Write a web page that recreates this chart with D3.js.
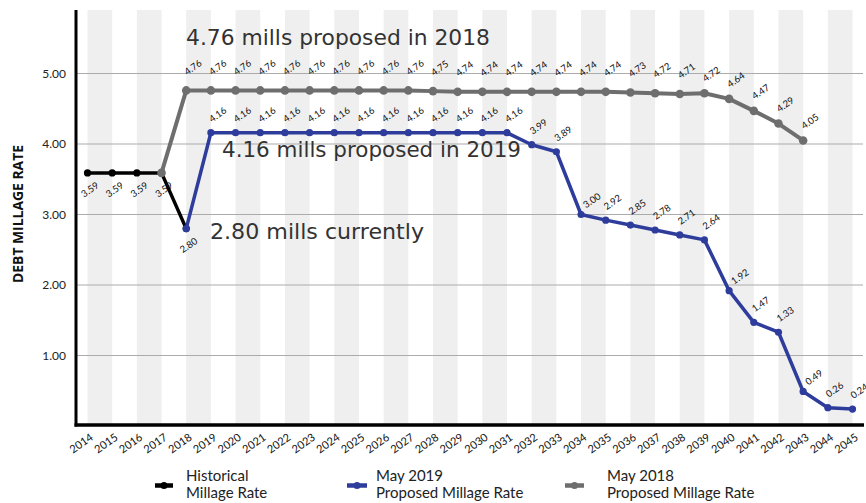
<!DOCTYPE html>
<html><head><meta charset="utf-8">
<script src="https://cdn.jsdelivr.net/npm/d3@7"></script>
<style>body{margin:0;background:#fff;} svg{display:block;font-family:Lato, "Open Sans", sans-serif;}</style>
</head><body><svg id="chart" width="866" height="503"></svg>
<script>
const years = [2014,2015,2016,2017,2018,2019,2020,2021,2022,2023,2024,2025,2026,2027,2028,2029,2030,2031,2032,2033,2034,2035,2036,2037,2038,2039,2040,2041,2042,2043,2044,2045];
const yTicks = [1,2,3,4,5];
const historicalStart = 2014;
const historicalValues = [3.59,3.59,3.59,3.59,2.80];
const may2019Start = 2018;
const may2019Values = [2.80,4.16,4.16,4.16,4.16,4.16,4.16,4.16,4.16,4.16,4.16,4.16,4.16,4.16,3.99,3.89,3.00,2.92,2.85,2.78,2.71,2.64,1.92,1.47,1.33,0.49,0.26,0.24];
const may2018Start = 2017;
const may2018Values = [3.59,4.76,4.76,4.76,4.76,4.76,4.76,4.76,4.76,4.76,4.76,4.75,4.74,4.74,4.74,4.74,4.74,4.74,4.74,4.73,4.72,4.71,4.72,4.64,4.47,4.29,4.05];
const annotations = ["4.76 mills proposed in 2018","4.16 mills proposed in 2019","2.80 mills currently"];
const legendLabels = [["Historical","Millage Rate"],["May 2019","Proposed Millage Rate"],["May 2018","Proposed Millage Rate"]];

const toPts = (start, vals) => vals.map((v,i)=>({year:years[years.indexOf(start)+i], value:v}));
const historical = toPts(historicalStart, historicalValues);
const may2019 = toPts(may2019Start, may2019Values);
const may2018 = toPts(may2018Start, may2018Values);

const svg = d3.select("#chart");
const x = d3.scalePoint().domain(years).range([87.5, 852.5]);
const y = d3.scaleLinear().domain([0,5]).range([426, 73.5]);
const topY = 10, axisY = 425, axisX = 76, rightX = 864;

// bands
years.forEach((yr,i)=>{
  if (i%2===0 && i+1<years.length) {
    svg.append("rect").attr("x", x(yr)).attr("y", topY)
      .attr("width", x(years[i+1])-x(yr)).attr("height", axisY-topY)
      .attr("fill", "#efefef");
  }
});
// gridlines
svg.append("g").selectAll("line").data(yTicks).join("line")
  .attr("x1", axisX).attr("x2", rightX-1).attr("y1", d=>y(d)).attr("y2", d=>y(d))
  .attr("stroke", "#ababab").attr("stroke-width", 1.2);

// axes
const ya = svg.append("g").attr("transform", `translate(${axisX},0)`)
  .call(d3.axisLeft(y).tickValues(yTicks).tickFormat(d3.format(".2f")).tickSize(0).tickPadding(10));
ya.select(".domain").remove();
ya.selectAll("text").attr("font-family","Lato").attr("font-size",12).attr("fill","#222");

const xa = svg.append("g").attr("transform", `translate(0,${axisY})`)
  .call(d3.axisBottom(x).tickSize(0));
xa.select(".domain").remove();
xa.selectAll("text").attr("font-family","Lato").attr("font-size",11).attr("fill","#111")
  .attr("x",0).attr("y",0).attr("dy",0).attr("text-anchor","end")
  .attr("transform","translate(6,14) rotate(-35)");

svg.append("line").attr("x1", axisX).attr("x2", axisX).attr("y1", topY).attr("y2", axisY+1.5)
  .attr("stroke","#000").attr("stroke-width",3);
svg.append("line").attr("x1", axisX-1.5).attr("x2", rightX).attr("y1", axisY).attr("y2", axisY)
  .attr("stroke","#000").attr("stroke-width",3.5);

svg.append("text").attr("transform", `translate(23,214) rotate(-90)`)
  .attr("text-anchor","middle").attr("font-family","'Open Sans'").attr("font-weight","bold")
  .attr("font-size",14.5).attr("fill","#111")
  .attr("textLength",138).attr("lengthAdjust","spacingAndGlyphs").text("DEBT MILLAGE RATE");

const line = d3.line().x(d=>x(d.year)).y(d=>y(d.value));
const series = [
  {data:historical, color:"#000000", w:3.5, r:3.6},
  {data:may2018, color:"#6e6e6e", w:4, r:4.3},
  {data:may2019, color:"#2e3d9c", w:3.5, r:3.6}
];
series.forEach(s=>{
  svg.append("path").datum(s.data).attr("d", line).attr("fill","none")
    .attr("stroke", s.color).attr("stroke-width", s.w).attr("stroke-linejoin","round");
  svg.append("g").selectAll("circle").data(s.data).join("circle")
    .attr("cx", d=>x(d.year)).attr("cy", d=>y(d.value)).attr("r", s.r).attr("fill", s.color);
});

const fmt = d3.format(".2f");
const lbl = (data, fn) => svg.append("g").selectAll("text").data(data).join("text")
  .attr("font-family","Lato").attr("font-size",9.5).attr("fill","#111")
  .attr("transform", fn).text(d=>fmt(d.value));
lbl(historical, d=>`translate(${x(d.year)+12},${y(d.value)+14}) rotate(-35)`).attr("text-anchor","end");
lbl(may2018.slice(1), (d,i)=>{
  const next = may2018[i+2];
  const dy = (next && next.value < d.value - 0.05) || d.value < 4.7 ? -11 : -15;
  return `translate(${x(d.year)+1},${y(d.value)+dy}) rotate(-35)`;
});
lbl(may2019.slice(1), (d,i)=>{
  const prev = may2019[i];
  const drop = prev.value - d.value;
  const dx = drop > 0.5 ? 5 : 1;
  const dy = drop > 0.5 ? -6 : -10;
  return `translate(${x(d.year)+dx},${y(d.value)+dy}) rotate(-35)`;
});

// annotations
const annPos = [[186,45,304],[222,157,299],[210,239,214]];
annotations.forEach((a,i)=>{
  svg.append("text").attr("x", annPos[i][0]).attr("y", annPos[i][1])
    .attr("font-family","'DejaVu Sans'").attr("font-size",21).attr("fill","#333")
    .attr("textLength", annPos[i][2]).attr("lengthAdjust","spacingAndGlyphs").text(a);
});

// legend
const legendColors = ["#000000","#2e3d9c","#6e6e6e"];
const legendPos = [[155,173,186],[347,367,376],[565,584,607]];
legendLabels.forEach((lab,i)=>{
  const [x1,x2,tx] = legendPos[i];
  svg.append("line").attr("x1",x1).attr("x2",x2).attr("y1",485.5).attr("y2",485.5)
    .attr("stroke",legendColors[i]).attr("stroke-width",4.5);
  svg.append("circle").attr("cx",(x1+x2)/2).attr("cy",485.5).attr("r",3.5).attr("fill",legendColors[i]);
  const t = svg.append("text").attr("font-family","Lato").attr("font-size",15).attr("fill","#222");
  t.append("tspan").attr("x",tx).attr("y",481).text(lab[0]);
  t.append("tspan").attr("x",tx).attr("y",498).text(lab[1]);
});
</script></body></html>
